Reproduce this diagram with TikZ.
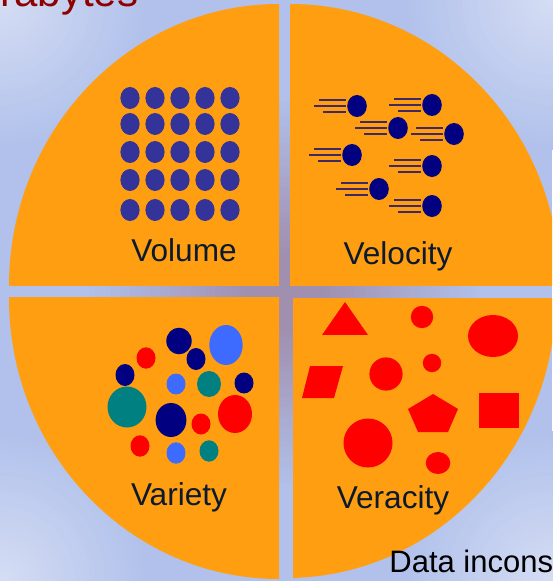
\documentclass[tikz,border=0pt]{standalone}
\usepackage{fontspec}
\setmainfont{Liberation Sans}

\definecolor{bgblue}{HTML}{B1C1EB}
\definecolor{bglight}{HTML}{D6DEF4}
\definecolor{gappurple}{HTML}{A08FAF}
\definecolor{pieorange}{HTML}{FF9E10}
\definecolor{dotblue}{HTML}{343399}
\definecolor{ballnavy}{HTML}{000080}
\definecolor{skyblue}{HTML}{3D6BFF}
\definecolor{titlered}{HTML}{8F0000}
\definecolor{labelink}{HTML}{0B1A2E}

\begin{document}
\begin{tikzpicture}[x=0.5pt, y=-0.5pt,
    bigword/.style={font=\fontsize{15.8}{19}\selectfont, text=labelink, inner sep=0pt, anchor=base},
    streak/.style={ballnavy!75!pieorange, line width=0.65pt}]
    
    \useasboundingbox (0,0) rectangle (552,581);
    \fill[bgblue] (0,0) rectangle (552,581);
    \foreach \r [evaluate=\r as \p using {int((150-\r)/1.5)}] in {150,145,...,5} {
        \fill[bglight!\p!bgblue] (0,0) circle (\r);
        \fill[bglight!\p!bgblue] (552,0) circle (\r);
        \fill[bglight!\p!bgblue] (0,581) circle (\r);
        \fill[bglight!\p!bgblue] (552,581) circle (\r);
    }
    \foreach \r [evaluate=\r as \p using {int(min(100,(200-\r)/1.6))}] in {200,195,...,5}
        \fill[gappurple!\p!bgblue] (285,292) circle (\r);
    
    \begin{scope}
        \clip (0,0) rectangle (279,286);
        \fill[pieorange] (279,286) ellipse [x radius=270, y radius=282];
    \end{scope}
    \begin{scope}
        \clip (290,0) rectangle (552,286);
        \fill[pieorange] (290,286) ellipse [x radius=270, y radius=282];
    \end{scope}
    \begin{scope}
        \clip (0,298) rectangle (279,581);
        \fill[pieorange] (279,298) ellipse [x radius=270, y radius=281];
    \end{scope}
    \begin{scope}
        \clip (293,299) rectangle (552,581);
        \fill[pieorange] (286,295) ellipse [x radius=270, y radius=283];
    \end{scope}
    
    \foreach \y in {98,124,152,180,210}
        \foreach \x in {130,155,180,205,230}
            \fill[dotblue] (\x,\y) ellipse [x radius=9.6, y radius=11];
    
    \foreach \bx/\by in {357/106, 432/105, 398/128, 454/134, 352/155, 432/166, 379/189, 432/206} {
        \draw[streak] ({\bx-38},{\by-6}) -- ({\bx-11},{\by-6});
        \draw[streak] ({\bx-43},\by) -- ({\bx-11},\by);
        \draw[streak] ({\bx-34},{\by+6}) -- ({\bx-11},{\by+6});
        \fill[ballnavy] (\bx,\by) ellipse [x radius=9.8, y radius=11];
    }
    
    \foreach \cx/\cy/\rx/\ry/\col in {179/341/12.7/13.3/ballnavy, 226/345/16.7/20/skyblue,
        146/358/9.5/10.7/red, 196/359/9.5/11/ballnavy, 125/375/9.5/11/ballnavy,
        176/384/9.5/10.5/skyblue, 209/384/12/13/teal, 244/383/9.5/10.5/ballnavy,
        127/407/19.5/20.5/teal, 171/420/15.4/17/ballnavy, 201/424/9.5/10.5/red,
        235/414/17/19/red, 140/446/9.5/10.7/red, 176/453/9.5/10.7/skyblue, 209/451/9.5/10.7/teal}
        \fill[\col] (\cx,\cy) ellipse [x radius=\rx, y radius=\ry];
    
    \fill[red] (345,302) -- (368,335) -- (322,335) -- cycle;
    \fill[red] (422,317) circle (11.2);
    \fill[red] (493,336) ellipse [x radius=25, y radius=21];
    \fill[red] (310,366) -- (343,366) -- (334,398) -- (302,398) -- cycle;
    \fill[red] (386,374) circle (16.6);
    \fill[red] (432,363) circle (9.2);
    \fill[red] (433,394) -- (458,409) -- (448,432) -- (418,432) -- (408,409) -- cycle;
    \fill[red] (479,393) rectangle (519,428);
    \fill[red] (368,443) circle (24.5);
    \fill[red] (438,463) ellipse [x radius=12.3, y radius=11];
    
    \node[bigword] (volume) at (184,262) {Volume};
    \node[bigword] (velocity) at (398,265) {Velocity};
    \node[bigword] (variety) at (179,505) {Variety};
    \node[bigword] (veracity) at (393,508) {Veracity};
    \node[font=\fontsize{21}{25}\selectfont, text=titlered, inner sep=0pt, anchor=base west] (terabytes) at (0,7) {rabytes};
    \node[font=\fontsize{15.5}{19}\selectfont, text=black, inner sep=0pt, anchor=base west] (inconsistency) at (389,572) {Data incons};
    
\end{tikzpicture}
\end{document}
